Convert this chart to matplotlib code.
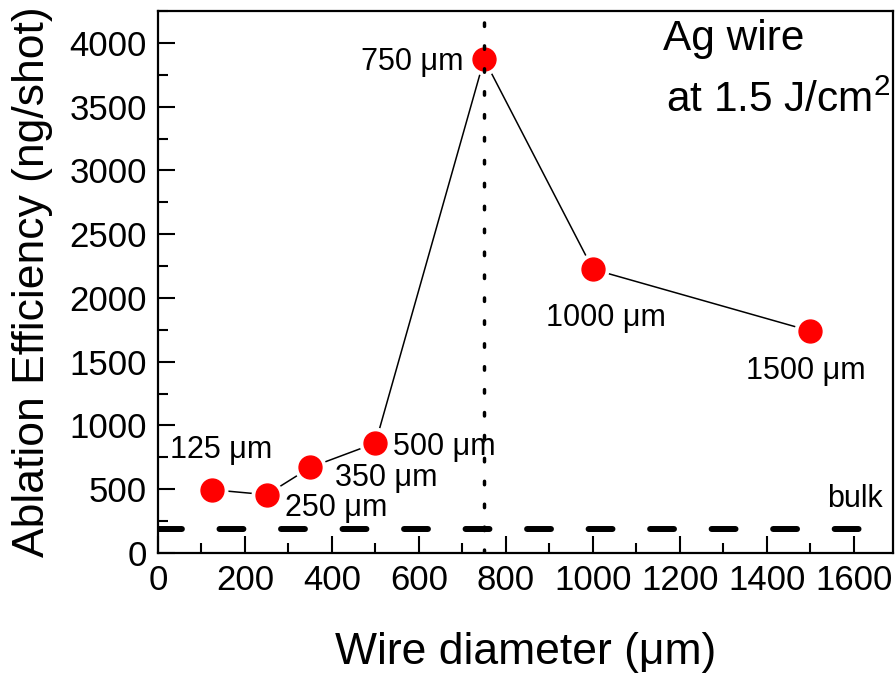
import matplotlib
matplotlib.use("Agg")
import matplotlib.pyplot as plt
from matplotlib.ticker import MultipleLocator

plt.rcParams['font.family'] = ['Liberation Sans', 'DejaVu Sans']
plt.rcParams['mathtext.fontset'] = 'custom'
plt.rcParams['mathtext.rm'] = 'Liberation Sans'

# wire diameter (um) vs ablation efficiency (ng/shot)
diameter = [125, 250, 350, 500, 750, 1000, 1500]
efficiency = [496, 457, 671, 862, 3872, 2225, 1741]
labels = ["125 μm", "250 μm", "350 μm", "500 μm", "750 μm", "1000 μm", "1500 μm"]
bulk = 185
peak_d = 750

# where each point label goes (x, y, alignment)
label_pos = [(28, 744, 'left'), (293, 287, 'left'), (408, 522, 'left'),
             (541, 770, 'left'), (702, 3786, 'right'), (891, 1781, 'left'),
             (1351, 1363, 'left')]

fig = plt.figure(figsize=(8.96, 6.75), dpi=100)
ax = fig.add_axes([158/896, 122/675, 735/896, 542/675])

ax.plot(diameter, efficiency, color='black', lw=1.1, zorder=2)
ax.plot(diameter, efficiency, 'o', ms=22, color='white', zorder=3)
ax.plot(diameter, efficiency, 'o', ms=16.5, color='#ff0000', mec='#ff0000', zorder=4)

ax.axvline(peak_d, color='black', lw=2.5, dashes=(1, 5.6),
           dash_capstyle='round', zorder=5)
ax.axhline(bulk, color='black', lw=4.3, dashes=(4, 6.3),
           dash_capstyle='round', zorder=1)

for lab, (x, y, ha) in zip(labels, label_pos):
    ax.text(x, y, lab, fontsize=22, ha=ha, va='baseline')

ax.text(1539, 363, "bulk", fontsize=22, ha='left', va='baseline')
ax.text(1162, 3943, "Ag wire", fontsize=30.5, ha='left', va='baseline')
ax.text(1167, 3457, r"at 1.5 J/cm$^{2}$", fontsize=30.5, ha='left', va='baseline')

ax.set_xlim(0, 1690)
ax.set_ylim(0, 4250)
ax.xaxis.set_major_locator(MultipleLocator(200))
ax.xaxis.set_minor_locator(MultipleLocator(100))
ax.yaxis.set_major_locator(MultipleLocator(500))
ax.yaxis.set_minor_locator(MultipleLocator(250))
ax.tick_params(which='both', direction='in', width=1.5, labelsize=25, pad=8)
ax.tick_params(which='major', length=12)
ax.tick_params(which='minor', length=7)
for s in ax.spines.values():
    s.set_linewidth(1.6)

ax.set_xlabel("Wire diameter (μm)", fontsize=32, labelpad=25)
ax.set_ylabel("Ablation Efficiency (ng/shot)", fontsize=32, labelpad=12)

fig.savefig("out.png", dpi=100)
